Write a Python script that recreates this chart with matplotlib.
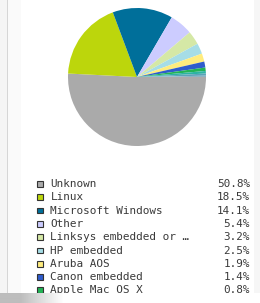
import numpy as np
import matplotlib
matplotlib.use("Agg")
import matplotlib.pyplot as plt
from matplotlib.patches import Rectangle

# legend entries (shown)
labels = ['Unknown', 'Linux', 'Microsoft Windows', 'Other', 'Linksys embedded or \u2026',
          'HP embedded', 'Aruba AOS', 'Canon embedded', 'Apple Mac OS X']
shares = [50.8, 18.5, 14.1, 5.4, 3.2, 2.5, 1.9, 1.4, 0.8]
colors = ['#aaaaaa', '#bcd60c', '#006f9a', '#ccccff', '#d5e8a6',
          '#a6dde6', '#ffec7e', '#2f5ccc', '#22b455']
# slivers past the visible part of the legend (estimated)
extra_shares = [0.6, 0.5, 0.3]
extra_colors = ['#2db3a3', '#5aa3b8', '#8db3c3']

W, H = 260, 303
fig = plt.figure(figsize=(W / 100, H / 100), dpi=100)
fig.patch.set_facecolor('white')

#page background: side strips (drawn under the axes)
def px_rect(x0, y0, w, h, color, z=-5):
    fig.patches.append(Rectangle((x0 / W, 1 - (y0 + h) / H), w / W, h / H,
                                 transform=fig.transFigure, facecolor=color,
                                 edgecolor='none', zorder=z))

px_rect(0, 0, 7, H, '#f5f5f5')
px_rect(7, 0, 1, H, '#d6d6d6')
px_rect(8, 0, 13, H, '#fafafa')
px_rect(254, 0, 6, H, '#f6f6f6')

# pie
ax = fig.add_axes([68 / W, 1 - 146 / H, 138 / W, 138 / H])
ax.pie(shares + extra_shares, colors=colors + extra_colors, startangle=0,
       counterclock=False, wedgeprops=dict(edgecolor='none', linewidth=0))
ax.set_xlim(-1, 1)
ax.set_ylim(-1, 1)
ax.set_aspect('equal')
ax.axis('off')

# legend in pixel coords
lg = fig.add_axes([0, 0, 1, 1], facecolor='none')
lg.set_xlim(0, W)
lg.set_ylim(H, 0)
lg.axis('off')
row0, step = 184, 13.3
for i, (lab, val, c) in enumerate(zip(labels, shares, colors)):
    y = row0 + step * i
    lg.add_patch(Rectangle((36.8, y - 3), 5.8, 5.8, facecolor=c, edgecolor='#333333', linewidth=0.8))
    lg.text(50.5, y, lab, family='DejaVu Sans Mono', fontsize=7.9, color='#3a3a3a',
            va='center', ha='left')
    lg.text(250, y, '%.1f%%' % val, family='DejaVu Sans Mono', fontsize=7.9,
            color='#3a3a3a', va='center', ha='right')

# panel bottom cut
lg.add_patch(Rectangle((0, 293), W, 10, facecolor='white', edgecolor='none', zorder=5))

# grey fade bar at the bottom left
bar = fig.add_axes([0, 0, 68 / W, 10 / H])
xs = np.linspace(0, 1, 68)
shade = np.clip(0.74 + 0.26 * np.clip((xs - 0.3) / 0.65, 0, 1), 0, 1).reshape(1, -1)
bar.imshow(shade, cmap='gray', vmin=0, vmax=1, aspect='auto', interpolation='bilinear')
bar.axis('off')

fig.savefig('out.png', dpi=100)
